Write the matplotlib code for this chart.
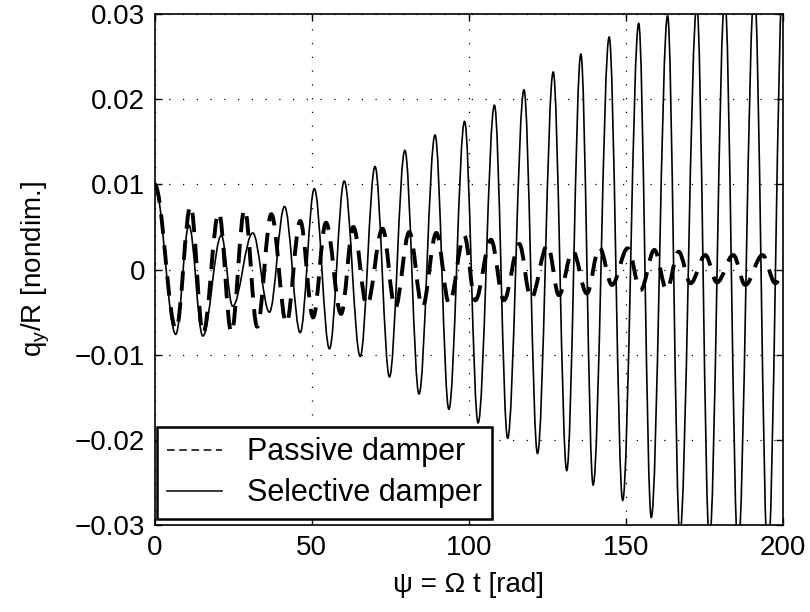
import matplotlib
matplotlib.use("Agg")
import matplotlib.pyplot as plt
from matplotlib.path import Path
from matplotlib.patches import PathPatch
from matplotlib.lines import Line2D

plt.rcParams["font.family"] = ["Liberation Sans", "DejaVu Sans"]
plt.rcParams["mathtext.fontset"] = "custom"
plt.rcParams["mathtext.rm"] = "Liberation Sans"
plt.rcParams["mathtext.it"] = "Liberation Sans"

# extrema (psi, q_y/R)
sel_psi = [0.0, 6.7, 10.9, 15.3, 21.2, 24.8, 31.2, 36.5, 41.3, 46.3,
           50.8, 55.6, 60.3, 65.4, 70.1, 74.7, 79.6, 84.1, 89.2, 93.6,
           98.6, 102.9, 108.1, 112.3, 117.5, 121.8, 126.8, 131.1, 135.6, 139.5,
           144.6, 148.9, 154.0, 158.0, 163.2, 167.1, 172.5, 176.5, 181.4, 185.6,
           190.8, 195.1, 200.0]
sel_q = [0.0100, -0.0076, 0.0052, -0.0078, 0.0040, -0.0043, 0.0043, -0.0050, 0.0074, -0.0074,
         0.0095, -0.0093, 0.0104, -0.0102, 0.0121, -0.0126, 0.0140, -0.0146, 0.0158, -0.0164,
         0.0174, -0.0180, 0.0193, -0.0198, 0.0211, -0.0216, 0.0232, -0.0236, 0.0253, -0.0253,
         0.0273, -0.0271, 0.0289, -0.0291, 0.0298, -0.0310, 0.0310, -0.0320, 0.0320, -0.0330,
         0.0330, -0.0340, 0.0350]

pas_psi = [0.0, 6.8, 11.4, 15.4, 20.4, 24.4, 28.6, 32.6, 37.1, 41.9,
           46.3, 50.4, 54.5, 59.3, 63.2, 67.5, 72.5, 76.5, 81.0, 85.2,
           89.6, 93.7, 98.5, 102.0, 107.0, 111.1, 116.0, 119.7, 125.0, 128.6,
           133.0, 137.5, 141.5, 145.5, 150.5, 154.6, 159.0, 162.9, 166.7, 170.5,
           175.2, 178.9, 184.1, 187.9, 193.4, 197.5, 200.0]
pas_q = [0.0100, -0.0070, 0.0075, -0.0075, 0.0067, -0.0074, 0.0071, -0.0067, 0.0065, -0.0063,
         0.0057, -0.0056, 0.0055, -0.0052, 0.0050, -0.0042, 0.0048, -0.0045, 0.0044, -0.0044,
         0.0043, -0.0040, 0.0040, -0.0036, 0.0035, -0.0036, 0.0030, -0.0034, 0.0029, -0.0030,
         0.0022, -0.0028, 0.0026, -0.0018, 0.0025, -0.0024, 0.0023, -0.0024, 0.0021, -0.0016,
         0.0017, -0.0015, 0.0017, -0.0018, 0.0017, -0.0016, -0.0005]


def smooth_path(t, v, k=0.36):
    # cubic bezier between neighbouring extrema
    verts = [(t[0], v[0])]
    codes = [Path.MOVETO]
    for i in range(len(t) - 1):
        dt = t[i + 1] - t[i]
        verts += [(t[i] + k * dt, v[i]), (t[i + 1] - k * dt, v[i + 1]), (t[i + 1], v[i + 1])]
        codes += [Path.CURVE4] * 3
    return Path(verts, codes)


fig = plt.figure(figsize=(8.1, 6.12), dpi=100)
ax = fig.add_axes([0.191, 0.142, 0.776, 0.835])

ax.add_patch(PathPatch(smooth_path(sel_psi, sel_q), fill=False, edgecolor="black", lw=1.2))
ax.add_patch(PathPatch(smooth_path(pas_psi, pas_q), fill=False, edgecolor="black", lw=2.8,
                       linestyle=(0, (5, 3)), capstyle="butt"))

ax.set_xlim(0, 200)
ax.set_ylim(-0.03, 0.03)
ax.set_xticks([0, 50, 100, 150, 200])
ax.set_yticks([-0.03, -0.02, -0.01, 0, 0.01, 0.02, 0.03])
ax.set_yticklabels(["\u22120.03", "\u22120.02", "\u22120.01", "0", "0.01", "0.02", "0.03"])
ax.grid(True, color="black", lw=0.9, linestyle=(0, (1, 10)))
ax.tick_params(direction="in", length=5, width=1, labelsize=20, pad=7,
               top=True, right=True)
for s in ax.spines.values():
    s.set_linewidth(1.2)

ax.set_xlabel("\u03c8 = \u03a9 t [rad]", fontsize=20, labelpad=8)
ax.set_ylabel("q$_\\mathrm{y}$/R [nondim.]", fontsize=20, labelpad=16)

handles = [Line2D([], [], color="black", lw=1.1, linestyle=(0, (5, 3))),
           Line2D([], [], color="black", lw=1.1)]
leg = ax.legend(handles, ["Passive damper", "Selective damper"], loc="lower left",
                bbox_to_anchor=(0.003, 0.012), fontsize=22, frameon=True, fancybox=False,
                edgecolor="black", framealpha=1, handlelength=1.8, handletextpad=0.8,
                borderpad=0.35, labelspacing=0.36, borderaxespad=0)
leg.get_frame().set_linewidth(1.8)

fig.savefig("out.png", dpi=100, facecolor="white")
